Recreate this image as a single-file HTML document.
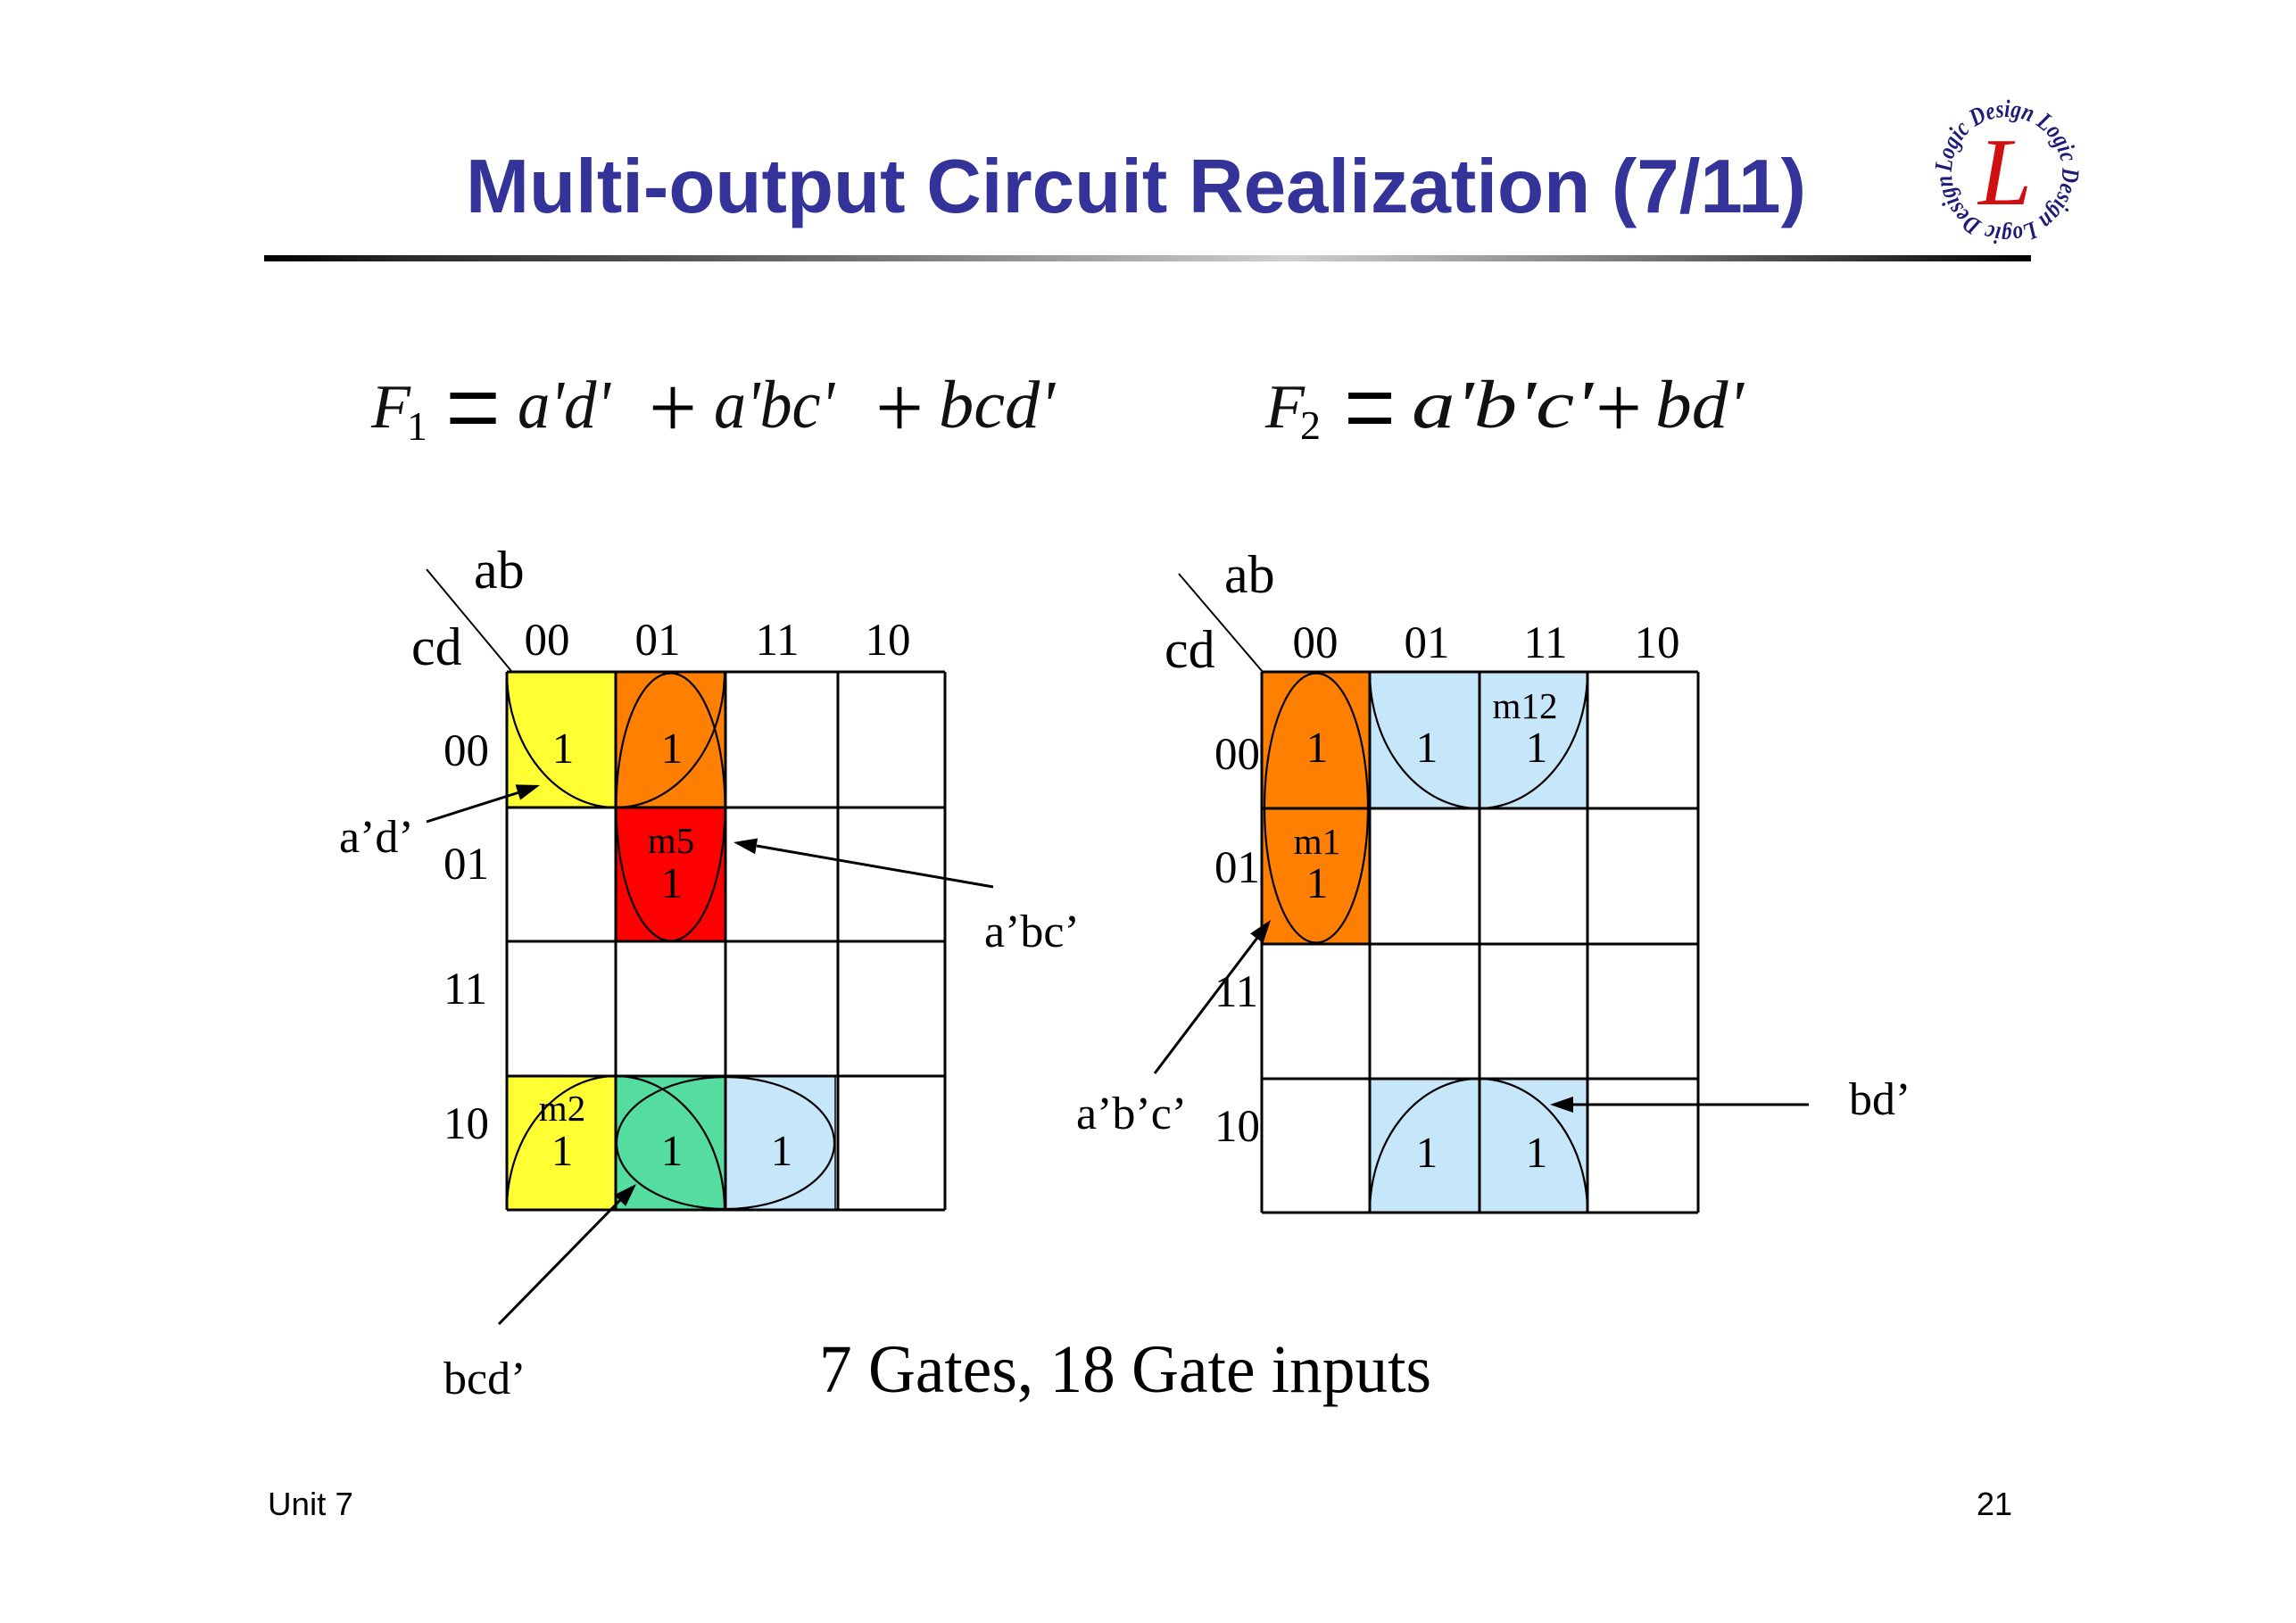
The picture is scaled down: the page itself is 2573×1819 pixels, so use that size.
<!DOCTYPE html>
<html>
<head>
<meta charset="utf-8">
<style>
  html, body { margin: 0; padding: 0; background: #ffffff; }
  svg { display: block; }
  .s { font-family: "Liberation Serif", "Times New Roman", serif; fill: #000; }
  .i { font-family: "Liberation Serif", "Times New Roman", serif; font-style: italic; fill: #111; }
</style>
</head>
<body>
<svg width="2573" height="1819" viewBox="0 0 2573 1819" xmlns="http://www.w3.org/2000/svg" xmlns:xlink="http://www.w3.org/1999/xlink">
  <defs>
    <linearGradient id="bar" x1="0" y1="0" x2="1" y2="0">
      <stop offset="0" stop-color="#000000"/>
      <stop offset="0.08" stop-color="#2a2a2a"/>
      <stop offset="0.35" stop-color="#777777"/>
      <stop offset="0.58" stop-color="#cfcfcf"/>
      <stop offset="0.78" stop-color="#777777"/>
      <stop offset="1" stop-color="#000000"/>
    </linearGradient>
    <path id="ring" d="M -62,0 A 62,62 0 1,1 62,0 A 62,62 0 1,1 -62,0"/>
  </defs>

  <rect x="0" y="0" width="2573" height="1819" fill="#ffffff"/>

  <!-- Title -->
  <text x="522" y="238" font-family="Liberation Sans, Arial, sans-serif" font-weight="bold" font-size="85" fill="#333399" textLength="1502" lengthAdjust="spacingAndGlyphs">Multi-output Circuit Realization (7/11)</text>
  <rect x="296" y="286" width="1980" height="7" fill="url(#bar)"/>

  <!-- Logo -->
  <g transform="translate(2249,193)">
    <text font-family="Liberation Serif, serif" font-style="italic" font-weight="bold" font-size="28" fill="#1c1c78" textLength="386" lengthAdjust="spacingAndGlyphs"><textPath href="#ring" xlink:href="#ring">Logic Design Logic Design Logic Design</textPath></text>
    <text x="-2" y="36" text-anchor="middle" font-family="Liberation Serif, serif" font-style="italic" font-size="108" fill="#d01010">L</text>
  </g>

  <!-- F1 equation -->
  <text class="i" x="416" y="479" font-size="70" textLength="44" lengthAdjust="spacingAndGlyphs">F</text>
  <text class="s" x="456" y="493" font-size="46" fill="#111">1</text>
  <text class="s" x="499" y="504" font-size="140" textLength="62" lengthAdjust="spacingAndGlyphs" fill="#111">=</text>
  <text class="i" x="580" y="479" font-size="76" textLength="104" lengthAdjust="spacingAndGlyphs">a'd'</text>
  <text class="s" x="727" y="490" font-size="100" textLength="54" lengthAdjust="spacingAndGlyphs" fill="#111">+</text>
  <text class="i" x="800" y="479" font-size="76" textLength="135" lengthAdjust="spacingAndGlyphs">a'bc'</text>
  <text class="s" x="981" y="490" font-size="100" textLength="54" lengthAdjust="spacingAndGlyphs" fill="#111">+</text>
  <text class="i" x="1052" y="479" font-size="76" textLength="130" lengthAdjust="spacingAndGlyphs">bcd'</text>

  <!-- F2 equation -->
  <text class="i" x="1418" y="479" font-size="70" textLength="44" lengthAdjust="spacingAndGlyphs">F</text>
  <text class="s" x="1457" y="492" font-size="46" fill="#111">2</text>
  <text class="s" x="1506" y="504" font-size="140" textLength="58" lengthAdjust="spacingAndGlyphs" fill="#111">=</text>
  <text class="i" x="1582" y="479" font-size="76" textLength="203" lengthAdjust="spacingAndGlyphs">a'b'c'</text>
  <text class="s" x="1788" y="490" font-size="100" textLength="52" lengthAdjust="spacingAndGlyphs" fill="#111">+</text>
  <text class="i" x="1855" y="479" font-size="76" textLength="99" lengthAdjust="spacingAndGlyphs">bd'</text>

  <!-- ================= K-map 1 ================= -->
  <rect x="568" y="753" width="122" height="152" fill="#ffff33"/>
  <rect x="690" y="753" width="123" height="152" fill="#ff8000"/>
  <rect x="690" y="905" width="123" height="150" fill="#ff0000"/>
  <rect x="568" y="1206" width="122" height="150" fill="#ffff33"/>
  <rect x="690" y="1206" width="123" height="150" fill="#55dda0"/>
  <rect x="813" y="1206" width="123" height="150" fill="#c6e6fa"/>
  <line x1="936" y1="1206" x2="936" y2="1356" stroke="#000" stroke-width="1.5"/>

  <g stroke="#000" stroke-width="3" fill="none">
    <line x1="568" y1="753" x2="568" y2="1356"/>
    <line x1="690" y1="753" x2="690" y2="1356"/>
    <line x1="813" y1="753" x2="813" y2="1356"/>
    <line x1="939" y1="753" x2="939" y2="1356"/>
    <line x1="1059" y1="753" x2="1059" y2="1356"/>
    <line x1="568" y1="753" x2="1059" y2="753"/>
    <line x1="568" y1="905" x2="1059" y2="905"/>
    <line x1="568" y1="1055" x2="1059" y2="1055"/>
    <line x1="568" y1="1206" x2="1059" y2="1206"/>
    <line x1="568" y1="1356" x2="1059" y2="1356"/>
  </g>

  <g stroke="#000" stroke-width="2.2" fill="none">
    <path d="M568,753 A122,152 0 0 0 812,753"/>
    <path d="M568,1356 A122,150 0 0 1 812,1356"/>
    <ellipse cx="751.5" cy="904.5" rx="61" ry="150"/>
    <ellipse cx="813" cy="1281" rx="122" ry="74"/>
  </g>

  <line x1="478" y1="638" x2="573" y2="752" stroke="#000" stroke-width="2"/>
  <text class="s" x="531" y="659" font-size="60">ab</text>
  <text class="s" x="461" y="745" font-size="60">cd</text>
  <g class="s" font-size="51" text-anchor="middle">
    <text x="613" y="734">00</text>
    <text x="737" y="734">01</text>
    <text x="871" y="734">11</text>
    <text x="995" y="734">10</text>
  </g>
  <g class="s" font-size="51">
    <text x="497" y="858">00</text>
    <text x="497" y="985">01</text>
    <text x="497" y="1125">11</text>
    <text x="497" y="1276">10</text>
  </g>

  <g class="s" font-size="49" text-anchor="middle">
    <text x="631" y="855">1</text>
    <text x="753" y="855">1</text>
    <text x="753" y="1006">1</text>
    <text x="630" y="1306">1</text>
    <text x="753" y="1306">1</text>
    <text x="876" y="1306">1</text>
  </g>
  <g class="s" font-size="41" text-anchor="middle">
    <text x="752" y="956">m5</text>
    <text x="630" y="1256">m2</text>
  </g>

  <g stroke="#000" stroke-width="3">
    <line x1="478" y1="921" x2="582" y2="888"/>
    <line x1="1113" y1="994" x2="848" y2="948"/>
    <line x1="559" y1="1484" x2="696" y2="1344"/>
  </g>
  <g fill="#000">
    <polygon points="605,880 583.1,896.6 577.5,879.4"/>
    <polygon points="822,944 849.1,939.5 846.1,957.3"/>
    <polygon points="713,1327 701.2,1351.9 688.4,1339.3"/>
  </g>
  <g class="s" font-size="52">
    <text x="380" y="955">a’d’</text>
    <text x="1103" y="1061">a’bc’</text>
    <text x="497" y="1562">bcd’</text>
  </g>

  <!-- ================= K-map 2 ================= -->
  <rect x="1414" y="753" width="121" height="305" fill="#ff8000"/>
  <rect x="1535" y="753" width="244" height="153" fill="#c6e6fa"/>
  <rect x="1535" y="1209" width="244" height="150" fill="#c6e6fa"/>

  <g stroke="#000" stroke-width="3" fill="none">
    <line x1="1414" y1="753" x2="1414" y2="1359"/>
    <line x1="1535" y1="753" x2="1535" y2="1359"/>
    <line x1="1658" y1="753" x2="1658" y2="1359"/>
    <line x1="1779" y1="753" x2="1779" y2="1359"/>
    <line x1="1903" y1="753" x2="1903" y2="1359"/>
    <line x1="1414" y1="753" x2="1903" y2="753"/>
    <line x1="1414" y1="906" x2="1903" y2="906"/>
    <line x1="1414" y1="1058" x2="1903" y2="1058"/>
    <line x1="1414" y1="1209" x2="1903" y2="1209"/>
    <line x1="1414" y1="1359" x2="1903" y2="1359"/>
  </g>

  <g stroke="#000" stroke-width="2.2" fill="none">
    <ellipse cx="1475" cy="905.5" rx="58" ry="151"/>
    <path d="M1535,753 A122,153 0 0 0 1779,753"/>
    <path d="M1535,1359 A122,150 0 0 1 1779,1359"/>
  </g>

  <line x1="1321" y1="643" x2="1415" y2="753" stroke="#000" stroke-width="2"/>
  <text class="s" x="1372" y="664" font-size="60">ab</text>
  <text class="s" x="1305" y="748" font-size="60">cd</text>
  <g class="s" font-size="51" text-anchor="middle">
    <text x="1474" y="737">00</text>
    <text x="1599" y="737">01</text>
    <text x="1732" y="737">11</text>
    <text x="1857" y="737">10</text>
  </g>
  <g class="s" font-size="51">
    <text x="1361" y="862">00</text>
    <text x="1361" y="989">01</text>
    <text x="1361" y="1128">11</text>
    <text x="1361" y="1279">10</text>
  </g>

  <g class="s" font-size="49" text-anchor="middle">
    <text x="1476" y="854">1</text>
    <text x="1599" y="854">1</text>
    <text x="1722" y="854">1</text>
    <text x="1476" y="1006">1</text>
    <text x="1599" y="1308">1</text>
    <text x="1722" y="1308">1</text>
  </g>
  <g class="s" font-size="41" text-anchor="middle">
    <text x="1709" y="805">m12</text>
    <text x="1476" y="957">m1</text>
  </g>

  <g stroke="#000" stroke-width="3">
    <line x1="1294" y1="1203" x2="1409" y2="1051"/>
    <line x1="2027" y1="1238" x2="1762" y2="1238"/>
  </g>
  <g fill="#000">
    <polygon points="1424,1031 1415.5,1057.1 1401.1,1046.3"/>
    <polygon points="1737,1238 1763,1229 1763,1247"/>
  </g>
  <g class="s" font-size="52">
    <text x="1206" y="1265">a’b’c’</text>
    <text x="2072" y="1249">bd’</text>
  </g>

  <!-- Bottom caption -->
  <text class="s" x="918" y="1560" font-size="76" textLength="686" lengthAdjust="spacingAndGlyphs">7 Gates, 18 Gate inputs</text>

  <!-- Footer -->
  <text x="300" y="1698" font-family="Liberation Sans, Arial, sans-serif" font-size="36" fill="#000" textLength="96" lengthAdjust="spacingAndGlyphs">Unit 7</text>
  <text x="2215" y="1698" font-family="Liberation Sans, Arial, sans-serif" font-size="36" fill="#000">21</text>
</svg>
</body>
</html>
